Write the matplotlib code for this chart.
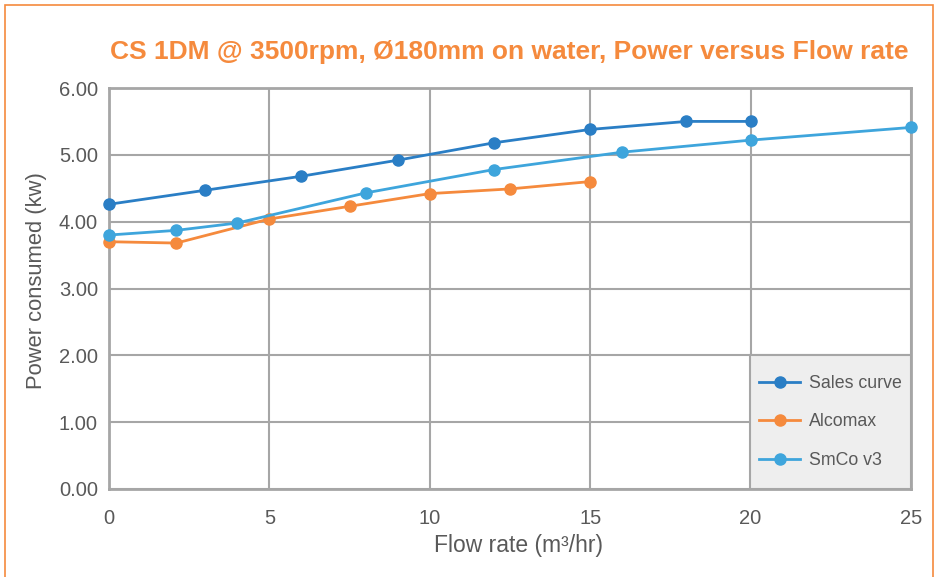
import matplotlib.pyplot as plt
from matplotlib.patches import Rectangle

# data
sales_x = [0, 3, 6, 9, 12, 15, 18, 20]
sales_y = [4.26, 4.47, 4.68, 4.92, 5.18, 5.38, 5.50, 5.50]

alcomax_x = [0, 2.1, 5, 7.5, 10, 12.5, 15]
alcomax_y = [3.70, 3.68, 4.04, 4.23, 4.42, 4.49, 4.60]

smco_x = [0, 2.1, 4, 8, 12, 16, 20, 25]
smco_y = [3.80, 3.87, 3.98, 4.43, 4.78, 5.04, 5.22, 5.41]

x_ticks = [0, 5, 10, 15, 20, 25]
y_ticks = [0, 1, 2, 3, 4, 5, 6]

plt.rcParams['font.family'] = ['Liberation Sans', 'DejaVu Sans']

grey = '#a6a6a6'
text_grey = '#595959'
orange = '#f58a3d'

fig = plt.figure(figsize=(9.41, 5.77), dpi=100)
ax = fig.add_axes([109 / 941, 1 - 489 / 577, 802 / 941, 401 / 577])

# orange frame round the whole figure
fig.patches.append(Rectangle((5 / 941, -0.05), 928 / 941, 1.05 - 5 / 577,
                             transform=fig.transFigure, fill=False,
                             edgecolor=orange, linewidth=1.2))

ax.plot(sales_x, sales_y, color='#2a7ec5', marker='o', markersize=8, linewidth=2, label='Sales curve', zorder=3, clip_on=False)
ax.plot(alcomax_x, alcomax_y, color=orange, marker='o', markersize=8, linewidth=2, label='Alcomax', zorder=3, clip_on=False)
ax.plot(smco_x, smco_y, color='#3ea5dc', marker='o', markersize=8, linewidth=2, label='SmCo v3', zorder=3, clip_on=False)

ax.set_xlim(0, 25)
ax.set_ylim(0, 6)
ax.set_xticks(x_ticks)
ax.set_yticks(y_ticks)
ax.set_yticklabels([f'{v:.2f}' for v in y_ticks])
ax.grid(True, color=grey, linewidth=1.5)
ax.set_axisbelow(True)
for s in ax.spines.values():
    s.set_color(grey)
    s.set_linewidth(2)
ax.tick_params(length=0, labelsize=14.5, colors=text_grey)
ax.tick_params(axis='x', pad=14.5)
ax.tick_params(axis='y', pad=8)

ax.set_xlabel('Flow rate (m³/hr)', fontsize=16.5, color=text_grey)
ax.set_ylabel('Power consumed (kw)', fontsize=15.8, color=text_grey)
ax.xaxis.set_label_coords((519 - 109) / 802, (489 - 534) / 401)
ax.yaxis.set_label_coords((47 - 109) / 802, (489 - 281) / 401)
fig.text(0.5415, 1 - 52 / 577, 'CS 1DM @ 3500rpm, Ø180mm on water, Power versus Flow rate',
         ha='center', va='center', fontsize=19, fontweight='bold', color=orange)

# legend box in the bottom right corner
lx0 = (750 - 109) / 802
ly1 = (489 - 355) / 401
ax.add_patch(Rectangle((lx0, 0), 1 - lx0, ly1, transform=ax.transAxes,
                       facecolor='#eeeeee', edgecolor=grey, linewidth=1.5, zorder=4))
leg = ax.legend(loc='center', bbox_to_anchor=(lx0 + (1 - lx0) / 2, ly1 / 2),
                frameon=False, fontsize=12.8, labelspacing=1.22, handlelength=2.3,
                handletextpad=0.5, labelcolor=text_grey)
leg.set_zorder(5)

fig.savefig('out.png', dpi=100)
